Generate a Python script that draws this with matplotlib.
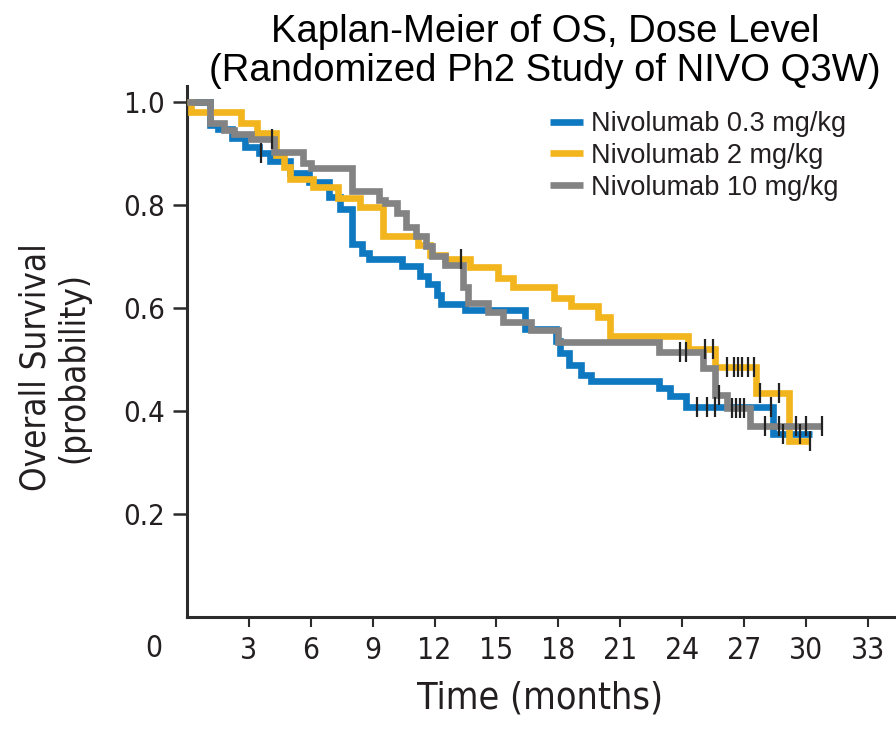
import matplotlib
matplotlib.use("Agg")
import matplotlib.pyplot as plt
import matplotlib.font_manager as fm
import numpy as np

## step data: event time (months) -> survival after the step
blue_t = [1.1, 1.5, 2.2, 2.8, 3.5, 4.0, 5.0, 5.9, 6.9, 7.4, 8.0, 8.5, 8.8,
          10.4, 11.3, 11.7, 12.1, 12.3, 13.5, 16.4, 17.9, 18.1, 18.5, 19.1,
          19.6, 22.9, 23.4, 24.2, 28.4]
blue_s = [0.955, 0.948, 0.93, 0.913, 0.90, 0.885, 0.862, 0.845, 0.815, 0.792,
          0.724, 0.707, 0.695, 0.681, 0.662, 0.647, 0.625, 0.607, 0.596, 0.559,
          0.535, 0.513, 0.49, 0.47, 0.458, 0.445, 0.43, 0.408, 0.355]
blue_end = 30.3
blue_cens = [3.6, 24.7, 25.2, 25.6, 28.3, 28.9, 29.7]

yellow_t = [0.2, 2.6, 3.4, 4.3, 4.7, 5.0, 6.1, 7.3, 8.4, 9.5, 11.2, 11.8,
            12.5, 13.7, 15.1, 15.8, 17.8, 18.6, 19.9, 20.5, 24.3, 25.6, 27.6,
            29.2]
yellow_s = [0.981, 0.96, 0.94, 0.897, 0.874, 0.85, 0.834, 0.813, 0.796, 0.74,
            0.722, 0.703, 0.695, 0.68, 0.658, 0.64, 0.62, 0.603, 0.582, 0.546,
            0.52, 0.485, 0.435, 0.342]
yellow_end = 30.2
yellow_cens = [13.3, 25.1, 25.5, 26.2, 26.5, 26.7, 26.9, 27.2, 27.5, 27.8,
               28.7, 30.2]

gray_t = [1.1, 1.8, 2.3, 3.1, 4.2, 5.6, 6.0, 8.0, 9.3, 9.6, 10.2, 10.6, 11.1,
          11.6, 11.9, 12.5, 13.4, 13.6, 14.6, 15.3, 16.7, 18.0, 22.9, 25.0,
          25.6, 26.2, 27.3]
gray_s = [0.96, 0.945, 0.937, 0.928, 0.903, 0.882, 0.872, 0.827, 0.81, 0.804,
          0.785, 0.757, 0.74, 0.72, 0.70, 0.683, 0.64, 0.61, 0.592, 0.573,
          0.557, 0.534, 0.515, 0.483, 0.432, 0.405, 0.37]
gray_end = 30.8
gray_cens = [4.1, 23.9, 24.2, 25.8, 26.4, 26.6, 26.8, 27.0, 28.0, 28.7, 29.5,
             30.0, 30.8]

labels = ["Nivolumab 0.3 mg/kg", "Nivolumab 2 mg/kg", "Nivolumab 10 mg/kg"]
colors = ["#0e78c0", "#f2b51e", "#838383"]
xticks = [3, 6, 9, 12, 15, 18, 21, 24, 27, 30, 33]
yticks = [0.2, 0.4, 0.6, 0.8, 1.0]

## pick a condensed face for the axis text if one is installed
names = {f.name for f in fm.fontManager.ttflist}
if "Liberation Sans Narrow" in names:
    cond = dict(family="Liberation Sans Narrow")
elif "DejaVu Sans Condensed" in names:
    cond = dict(family="DejaVu Sans Condensed")
else:
    cond = dict(family="DejaVu Sans", stretch="condensed")

ink = "#231f20"

fig = plt.figure(figsize=(8.96, 7.32), dpi=100)
ax = fig.add_axes([0.2087, 0.1571, 0.7913, 0.7254])

series = [(blue_t, blue_s, blue_end, blue_cens),
          (yellow_t, yellow_s, yellow_end, yellow_cens),
          (gray_t, gray_s, gray_end, gray_cens)]

handles = {}
# draw blue, then gray, then yellow on top
for k in [0, 2, 1]:
    t, s, end, cens = series[k]
    tt = np.r_[0.0, t, end]
    ss = np.r_[1.0, s, s[-1]]
    ln, = ax.step(tt, ss, where="post", color=colors[k], lw=4.8,
                  solid_joinstyle="miter", solid_capstyle="butt", zorder=2 + k)
    handles[k] = ln
    idx = np.searchsorted(tt, cens, side="right") - 1
    ax.plot(cens, ss[idx], linestyle="none", marker="|", markersize=14,
            markeredgewidth=1.6, color="#222222", zorder=6)

ax.set_xlim(0, 34.37)
ax.set_ylim(0, 1.031)
ax.set_xticks(xticks)
ax.set_yticks(yticks)
ax.set_yticklabels(["%.1f" % v for v in yticks])

for side in ["top", "right"]:
    ax.spines[side].set_visible(False)
for side in ["left", "bottom"]:
    ax.spines[side].set_linewidth(2.2)
    ax.spines[side].set_color("#2b2b2b")

ax.tick_params(axis="y", length=10, width=1.8, pad=6, labelsize=21,
               colors="#2b2b2b", labelcolor=ink)
ax.tick_params(axis="x", length=7, width=1.5, pad=7, labelsize=21.5,
               colors="#2b2b2b", labelcolor=ink)
for lab in ax.get_xticklabels() + ax.get_yticklabels():
    lab.set(**cond)

# origin label sits left of the axis
ax.text(-1.6, -0.0584, "0", transform=ax.get_xaxis_transform(), ha="center",
        va="center", fontsize=21.5, color=ink, clip_on=False, **cond)

ax.legend([handles[0], handles[1], handles[2]], labels, loc="upper left",
          bbox_to_anchor=(550 / 896, 1 - 111 / 732),
          bbox_transform=fig.transFigure, frameon=False,
          handlelength=1.2, handletextpad=0.3, labelspacing=0.22,
          borderpad=0, borderaxespad=0, labelcolor=ink,
          prop=dict(family="Liberation Sans", size=19.5))

fig.text(0.608, 0.981, "Kaplan-Meier of OS, Dose Level\n(Randomized Ph2 Study of NIVO Q3W)",
         ha="center", va="top", fontsize=27.5, family="Liberation Sans",
         linespacing=1.1, color="black")
fig.text(0.061, 0.498, "Overall Survival\n(probability)", rotation=90,
         ha="center", va="center", fontsize=25, color=ink, linespacing=1.15,
         multialignment="center", **cond)
fig.text(0.603, 0.0464, "Time (months)", ha="center", va="center",
         fontsize=27, color=ink, **cond)

fig.savefig("out.png", dpi=100)
